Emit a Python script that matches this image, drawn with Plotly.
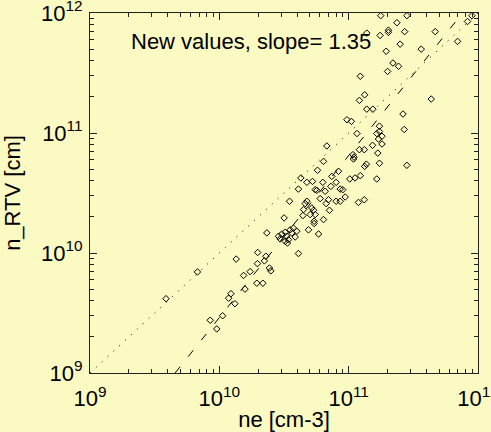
import numpy as np
import plotly.graph_objects as go

# Electron density vs RTV-derived density, both in cm^-3 units (log-log)
ne = [
    1.77e11, 2.82e11, 1.38e11, 1.75e11, 2.03e11, 2.03e11, 2.36e11, 2.71e11, 2.50e11, 1.95e11,
    3.64e11, 4.67e11, 6.95e11, 8.30e11, 8.98e11, 2.20e11, 2.43e11, 2.00e11, 1.23e11, 1.33e11,
    1.21e11, 4.35e11, 1.38e11, 1.54e11, 9.70e10, 1.05e11, 2.63e11, 2.69e11, 1.16e11, 1.73e11,
    1.73e11, 1.65e11, 1.81e11, 1.70e11, 1.81e11, 1.53e11, 6.78e10, 1.21e11, 1.32e11, 1.68e11,
    1.08e11, 1.10e11, 1.09e11, 1.73e11, 6.39e10, 1.33e11, 1.37e11, 2.82e11, 8.35e10, 5.74e10,
    4.27e10, 1.02e11, 1.12e11, 1.23e11, 1.65e11, 7.41e10, 4.75e10, 5.25e10, 6.31e10, 7.28e10,
    8.00e10, 5.51e10, 5.67e10, 6.58e10, 8.60e10, 9.00e10, 4.09e10, 3.49e10, 4.75e10, 4.61e10,
    6.02e10, 6.98e10, 8.00e10, 8.60e10, 9.40e10, 6.70e10, 7.10e10, 1.19e11, 1.32e11, 4.48e10,
    5.19e10, 5.35e10, 5.04e10, 5.51e10, 4.43e10, 6.39e10, 3.17e10, 5.41e10, 5.41e10, 4.89e10,
    5.85e10, 2.33e10, 2.87e10, 3.04e10, 3.23e10, 3.32e10, 3.53e10, 3.63e10, 3.74e10, 3.86e10,
    3.42e10, 3.23e10, 2.95e10, 3.97e10, 3.36e10, 4.09e10, 1.98e10, 2.29e10, 2.23e10, 1.35e10,
    1.97e10, 1.73e10, 2.44e10, 2.50e10, 1.54e10, 1.95e10, 2.17e10, 1.58e10, 1.23e10, 1.18e10,
    1.32e10, 1.06e10, 8.50e9, 9.55e9, 6.77e9, 3.87e9,
]
n_rtv = [
    9.50e11, 9.50e11, 6.80e11, 6.50e11, 7.20e11, 6.90e11, 8.30e11, 7.00e11, 5.50e11, 4.80e11,
    5.00e11, 7.00e11, 5.80e11, 8.50e11, 9.50e11, 3.83e11, 3.60e11, 3.26e11, 2.97e11, 2.08e11,
    1.87e11, 1.92e11, 1.58e11, 1.58e11, 1.29e11, 1.25e11, 1.44e11, 1.07e11, 9.90e10, 1.14e11,
    1.03e11, 9.90e10, 9.40e10, 8.90e10, 8.10e10, 7.90e10, 7.80e10, 7.26e10, 7.26e10, 6.80e10,
    6.60e10, 6.30e10, 6.07e10, 5.60e10, 5.80e10, 5.27e10, 5.50e10, 5.38e10, 4.80e10, 4.89e10,
    4.22e10, 4.14e10, 4.22e10, 4.41e10, 4.14e10, 4.35e10, 3.88e10, 3.95e10, 3.88e10, 3.59e10,
    3.88e10, 3.37e10, 3.33e10, 3.27e10, 3.41e10, 3.37e10, 3.41e10, 2.70e10, 2.70e10, 2.58e10,
    2.84e10, 2.78e10, 2.70e10, 2.70e10, 2.93e10, 2.58e10, 2.27e10, 2.64e10, 2.78e10, 2.30e10,
    2.37e10, 2.27e10, 2.09e10, 2.09e10, 2.05e10, 1.90e10, 1.96e10, 1.84e10, 1.76e10, 1.56e10,
    1.44e10, 1.47e10, 1.38e10, 1.44e10, 1.49e10, 1.38e10, 1.56e10, 1.47e10, 1.61e10, 1.36e10,
    1.29e10, 1.25e10, 1.31e10, 1.52e10, 1.21e10, 9.90e9, 1.01e10, 9.40e9, 8.60e9, 8.90e9,
    8.15e9, 7.00e9, 7.50e9, 7.10e9, 6.50e9, 5.60e9, 5.60e9, 5.00e9, 4.58e9, 4.20e9,
    3.78e9, 3.00e9, 2.75e9, 2.33e9, 6.95e9, 4.16e9,
]

# Power-law fit: n_RTV = 1e9 * (ne / fit_x0) ** fit_slope
fit_slope = 1.35
fit_x0 = 4.55e9

axis_range = [1e9, 1e12]
tick_vals = [1e9, 1e10, 1e11, 1e12]
tick_text = ["10<sup>9</sup>", "10<sup>10</sup>", "10<sup>11</sup>", "10<sup>12</sup>"]

bg = "rgb(250,250,194)"
font_family = "Liberation Sans, Arial, sans-serif"

fit_x = np.logspace(np.log10(fit_x0), 12, 200)
fit_y = 1e9 * (fit_x / fit_x0) ** fit_slope

fig = go.Figure()
fig.add_trace(go.Scatter(
    x=axis_range, y=axis_range, mode="lines",
    line=dict(color="black", width=1, dash="1px,7px"),
    hoverinfo="skip", showlegend=False,
))
fig.add_trace(go.Scatter(
    x=fit_x, y=fit_y, mode="lines",
    line=dict(color="black", width=1, dash="8px,13px"),
    hoverinfo="skip", showlegend=False,
))
fig.add_trace(go.Scatter(
    x=ne, y=n_rtv, mode="markers",
    marker=dict(symbol="diamond-open", size=5, color="black", line=dict(width=1, color="black")),
    showlegend=False,
))

# tiny padding so the end decades keep their tick labels
log_range = [np.log10(axis_range[0]) - 1e-4, np.log10(axis_range[1]) + 1e-4]

axis_common = dict(
    type="log", range=log_range,
    tickvals=tick_vals, ticktext=tick_text,
    ticks="inside", ticklen=7, tickwidth=1, tickcolor="#222",
    showline=True, linecolor="#222", linewidth=1, mirror="ticks",
    showgrid=False, zeroline=False, automargin=False,
    ticklabeloverflow="allow",
    tickfont=dict(size=22, color="black", family=font_family),
    minor=dict(ticks="inside", ticklen=4, tickwidth=1, tickcolor="#222", dtick="D1", showgrid=False),
)

fig.update_xaxes(
    title=dict(text="ne [cm-3]", font=dict(size=22, color="black", family=font_family), standoff=4),
    ticklabelstandoff=6,
    **axis_common,
)
fig.update_yaxes(
    title=dict(text="n_RTV [cm]", font=dict(size=22, color="black", family=font_family), standoff=14),
    ticklabelstandoff=2,
    **axis_common,
)

fig.add_annotation(
    text="New values, slope= 1.35", xref="paper", yref="paper",
    x=0.1, y=0.92, xanchor="left", yanchor="middle", showarrow=False,
    font=dict(size=22, color="black", family=font_family),
)

fig.update_layout(
    template="none",
    width=491, height=432,
    margin=dict(l=90, r=13, t=13, b=59),
    paper_bgcolor=bg, plot_bgcolor=bg,
    font=dict(family=font_family, color="black"),
)

fig.write_html("out.html")
